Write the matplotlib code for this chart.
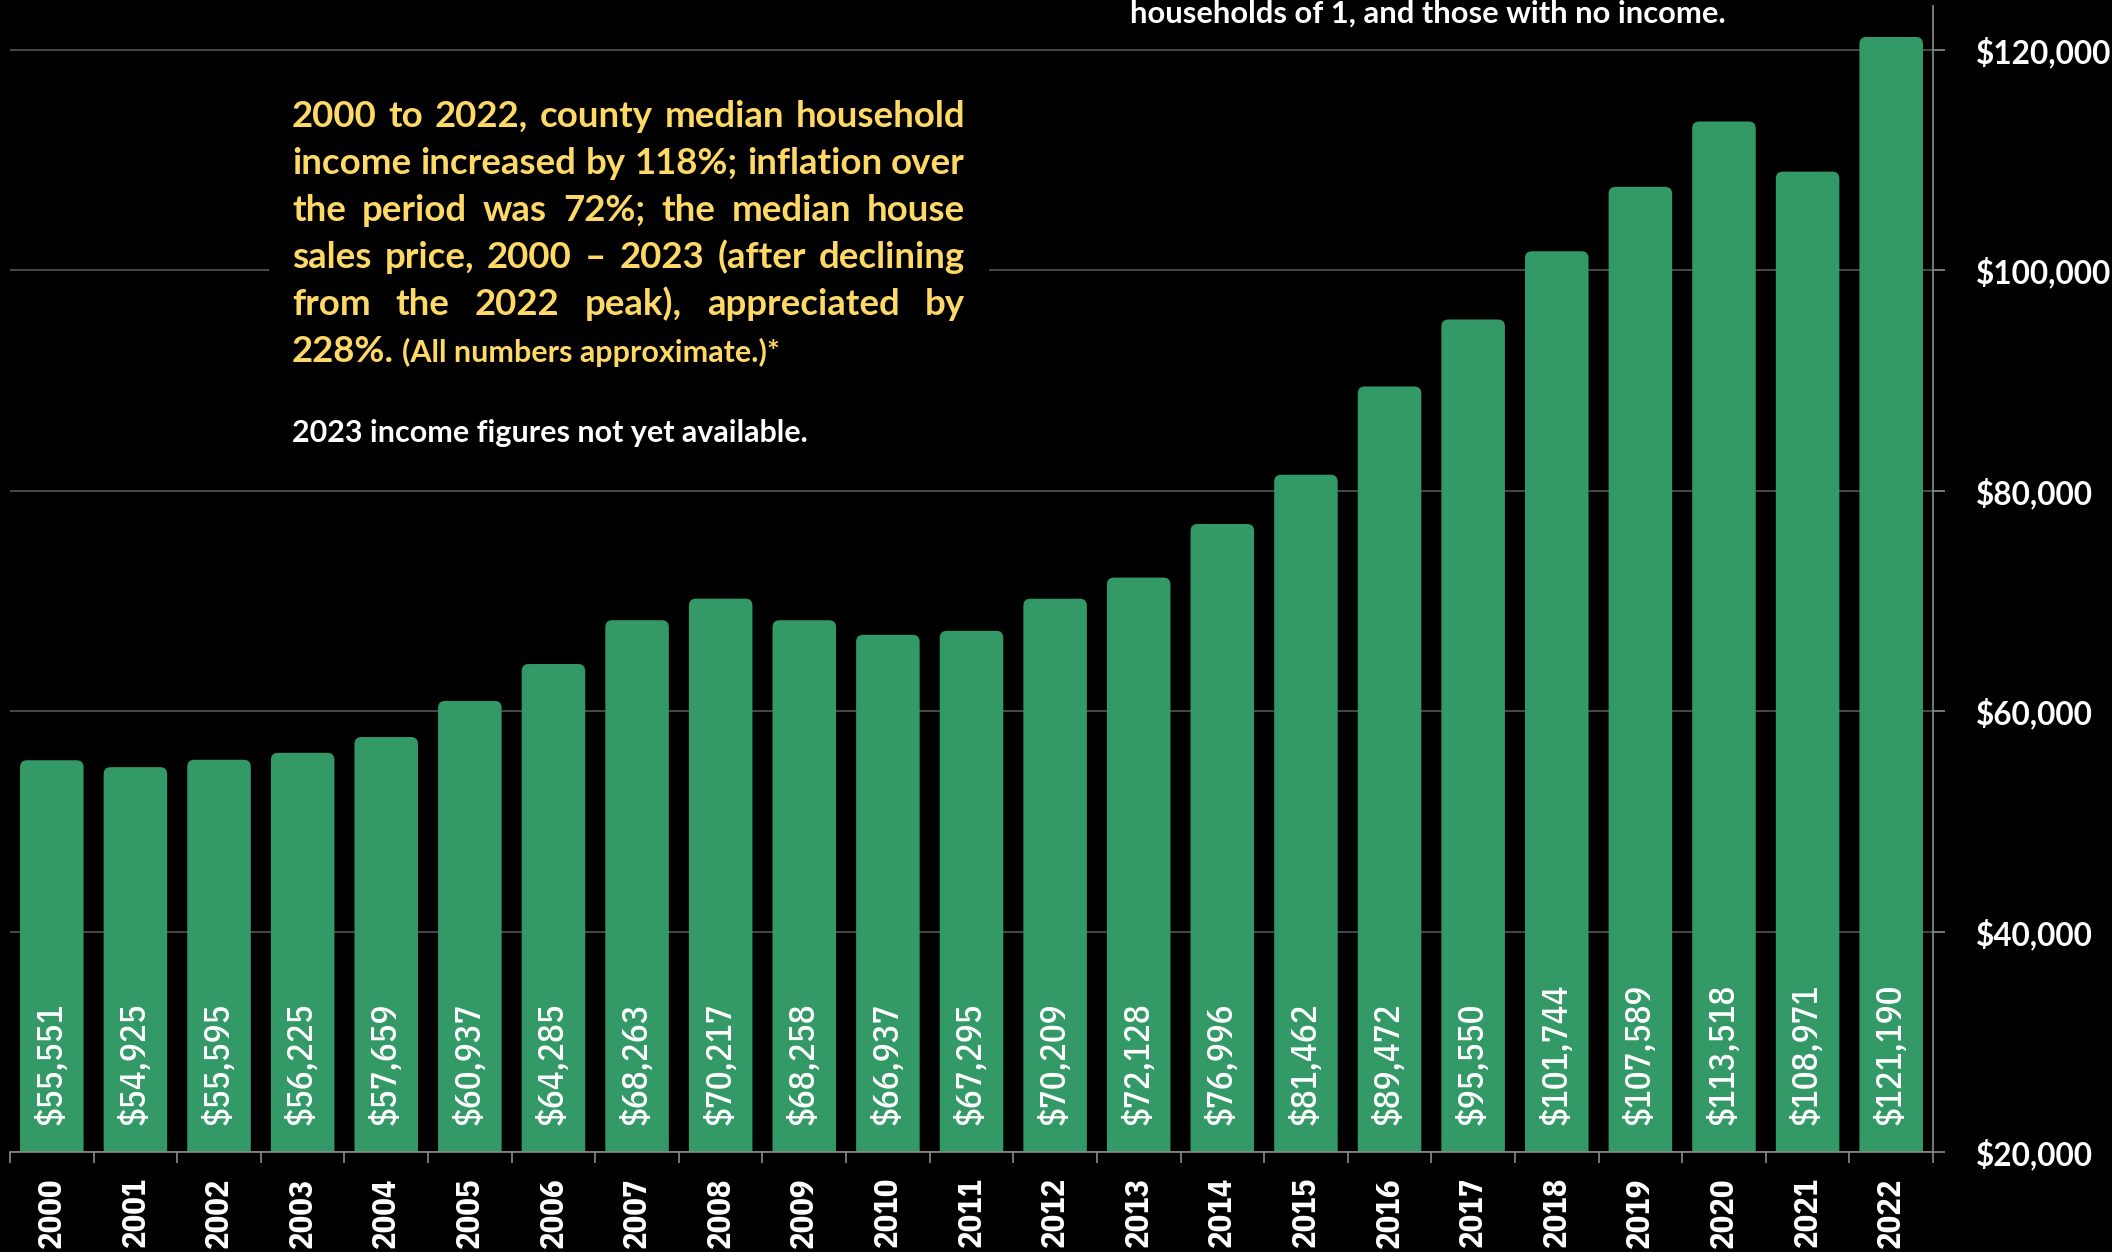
import numpy as np
import matplotlib
matplotlib.use('Agg')
import matplotlib.pyplot as plt
from matplotlib import font_manager as fm
from matplotlib.patches import FancyBboxPatch, Rectangle

# median household income by year
years = ['2000', '2001', '2002', '2003', '2004', '2005', '2006', '2007', '2008', '2009', '2010', '2011',
         '2012', '2013', '2014', '2015', '2016', '2017', '2018', '2019', '2020', '2021', '2022']
incomes = [55551, 54925, 55595, 56225, 57659, 60937, 64285, 68263, 70217, 68258, 66937, 67295,
           70209, 72128, 76996, 81462, 89472, 95550, 101744, 107589, 113518, 108971, 121190]
y_ticks = [20000, 40000, 60000, 80000, 100000, 120000]

note_lines = ['2000 to 2022, county median household',
              'income increased by 118%; inflation over',
              'the period was 72%; the median house',
              'sales price, 2000 \u2013 2023 (after declining',
              'from the 2022 peak), appreciated by']
note_last = '228%.'
note_aside = '(All numbers approximate.)*'
note_white = '2023 income figures not yet available.'
note_top = 'households of 1, and those with no income.'

GREEN = '#339966'
GOLD = '#FFD966'
GRID = '#555555'
SPINE = '#8C8C8C'
W, H = 2112, 1252

# narrow faces for the rotated numbers
val_font = fm.FontProperties(family=['IBM Plex Sans Condensed', 'DejaVu Sans'], weight=500)
year_font = fm.FontProperties(family=['IBM Plex Sans Condensed', 'DejaVu Sans'], weight='bold')

fig = plt.figure(figsize=(W / 100, H / 100), dpi=100, facecolor='black')
ax = fig.add_axes([10 / W, 100 / H, 1923 / W, 1146 / H])
ax.set_facecolor('black')
ax.set_xlim(-0.5, len(years) - 0.5)
ax.set_ylim(20000, 124000)
renderer = fig.canvas.get_renderer()


def text_width(s, size, fp=None):
    if fp is None:
        fp = fm.FontProperties(family='Lato', weight='bold')
    fp = fp.copy()
    fp.set_size(size)
    t = fig.text(0, 0, s, fontproperties=fp)
    w = t.get_window_extent(renderer).width
    t.remove()
    return w


x = np.arange(len(years))
bars = ax.bar(x, incomes, width=0.76, color=GREEN, zorder=2)

# swap the square bars for ones with rounded top corners
px_x = ax.bbox.width / len(years)
px_y = ax.bbox.height / 104000
r_px = 7
for b in bars:
    b.set_visible(False)
    ax.add_patch(FancyBboxPatch((b.get_x(), b.get_y()), b.get_width(), b.get_height(),
                                boxstyle='round,pad=0,rounding_size=%f' % (r_px / px_x),
                                mutation_aspect=px_x / px_y, fc=GREEN, ec='none', zorder=2))

# rotated numbers sized to their printed length
val_font.set_size(10 * 121 / text_width('$55,551', 10, val_font))
year_font.set_size(10 * 70 / text_width('2000', 10, year_font))

for i, v in enumerate(incomes):
    ax.annotate('${:,}'.format(v), xy=(i, 20000), xytext=(0, 19.5), textcoords='offset points',
                rotation=90, ha='center', va='bottom', color='white', fontproperties=val_font,
                zorder=3)

# axes styling
ax.set_axisbelow(True)
ax.grid(axis='y', color=GRID, lw=1.2)
for s in ['left', 'top']:
    ax.spines[s].set_visible(False)
for s in ['bottom', 'right']:
    ax.spines[s].set_color(SPINE)
    ax.spines[s].set_linewidth(1.2)
    ax.spines[s].set_zorder(4)

ax.yaxis.tick_right()
ax.set_yticks(y_ticks)
ax.set_yticklabels(['${:,}'.format(v) for v in y_ticks], family='Lato', fontweight='bold',
                   fontsize=22.7, color='white')
ax.tick_params(axis='y', direction='out', length=8.6, width=1.2, color=SPINE, pad=22)

ax.set_xticks(x)
ax.set_xticklabels(years, rotation=90, fontproperties=year_font, color='white', va='top')
ax.set_xticks(np.arange(-0.5, len(years)), minor=True)
ax.tick_params(axis='x', which='major', length=0, pad=18)
ax.tick_params(axis='x', which='minor', direction='out', length=8, width=1.2, color=SPINE)


# note text block
def put(xp, yp, s, size, color):
    fig.text(xp / W, 1 - yp / H, s, fontsize=size, family='Lato', fontweight='bold',
             color=color, va='baseline', ha='left')


X0, X1 = 292, 965
main_size = 10 * (X1 - X0) / max(text_width(l, 10) for l in note_lines)
small_size = 10 * 517 / text_width(note_white, 10)
top_size = 10 * 597 / text_width(note_top, 10)

fig.add_artist(Rectangle((269 / W, 1 - 465 / H), 720 / W, 395 / H, transform=fig.transFigure,
                         fc='black', ec='none', zorder=1))

baselines = [127, 174, 221, 268, 315]
for line, yb in zip(note_lines, baselines):
    words = line.split(' ')
    widths = [text_width(w, main_size) for w in words]
    gap = (X1 - X0 - sum(widths)) / (len(words) - 1)
    xp = X0
    for w, wd in zip(words, widths):
        put(xp, yb, w, main_size, GOLD)
        xp += wd + gap

put(X0, 362, note_last, main_size, GOLD)
put(402, 362, note_aside, small_size, GOLD)
put(X0, 442, note_white, small_size, 'white')
put(1130, 23, note_top, top_size, 'white')

fig.savefig('out.png', dpi=100, facecolor='black')
